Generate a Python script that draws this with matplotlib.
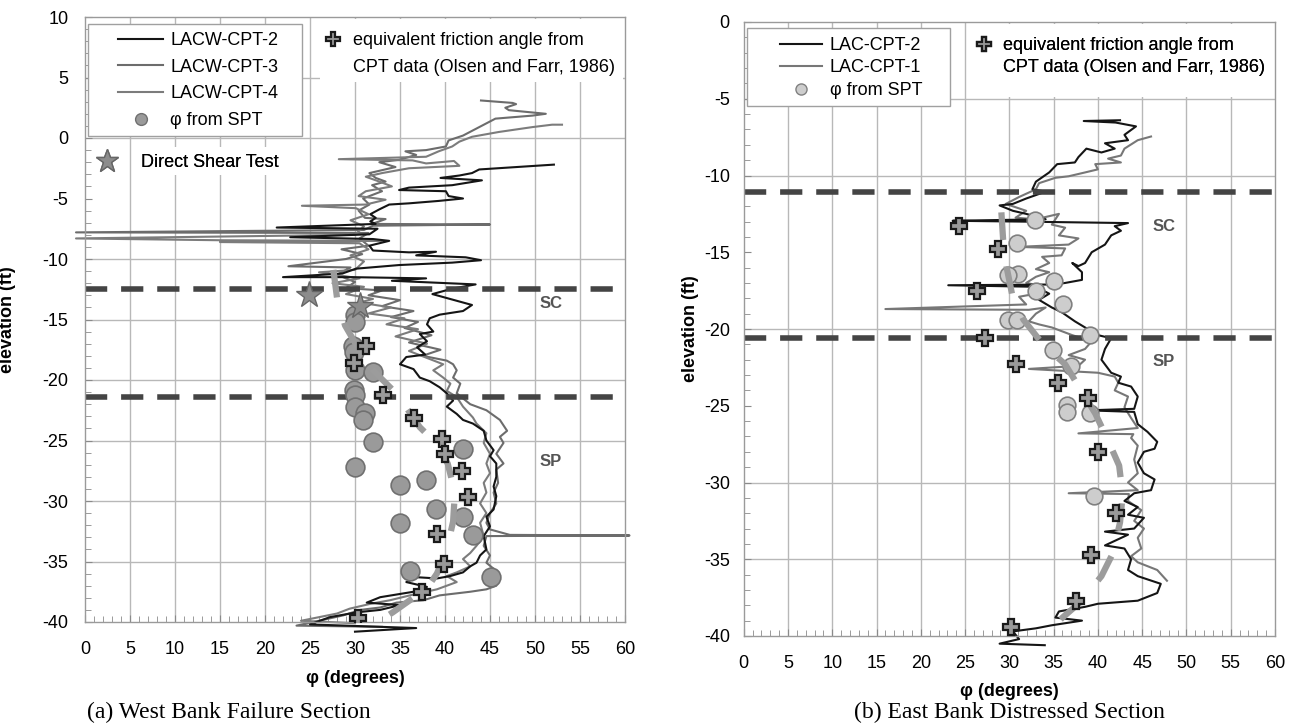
"""
Friction angle profiles vs elevation, west bank / east bank sections
"""

import numpy as np
import matplotlib as mpl
mpl.use("Agg")
import matplotlib.pyplot as plt
from matplotlib.lines import Line2D
from matplotlib.patches import Rectangle
from matplotlib.ticker import MultipleLocator

plt.rcParams['font.family'] = ['Liberation Sans', 'DejaVu Sans']
plt.rcParams['lines.scale_dashes'] = False
plt.rcParams['axes.unicode_minus'] = False

# ---------------- (a) West bank failure section ----------------
lacw_cpt2 = [(52.1, -2.2), (43.8, -2.6), (43.0, -2.9), (41.6, -3.1), (39.5, -3.3), (44.1, -3.5),
             (40.8, -3.9), (36.0, -4.1), (34.9, -4.3), (40.1, -4.4), (40.4, -4.8), (42.0, -5.0),
             (39.3, -5.2), (36.0, -5.4), (33.8, -5.5), (32.7, -5.9), (31.7, -6.3), (32.3, -6.6),
             (31.7, -6.9), (32.3, -7.1), (21.3, -7.4), (32.5, -7.5), (31.6, -7.96), (22.8, -8.2),
             (32.0, -8.35), (33.8, -8.5), (31.6, -8.9), (32.0, -9.3), (36.0, -9.45), (39.0, -9.4),
             (36.8, -9.7), (42.3, -9.86), (44.0, -10.1), (40.8, -10.3), (34.9, -10.5), (30.1, -10.8),
             (28.6, -11.2), (22.0, -11.5), (29.7, -11.5), (37.9, -11.6), (34.1, -11.8), (43.4, -12.1),
             (40.8, -12.45), (38.6, -12.9), (43.0, -13.8), (42.0, -14.3), (39.4, -14.6), (38.3, -14.9),
             (38.0, -15.4), (38.7, -16.0), (37.2, -16.2), (38.0, -16.8), (36.9, -17.3), (37.8, -17.9),
             (35.7, -18.1), (35.0, -18.7), (36.5, -19.1), (37.2, -19.8), (38.3, -20.1), (39.4, -20.6),
             (40.2, -21.1), (40.9, -21.7), (40.2, -22.2), (41.3, -22.8), (42.0, -23.3), (43.1, -23.6),
             (44.3, -24.2), (44.6, -25.0), (45.4, -25.8), (45.0, -26.3), (45.7, -26.9), (45.7, -28.0),
             (45.4, -28.8), (45.7, -29.6), (45.4, -30.7), (44.6, -31.3), (45.0, -32.1), (44.3, -32.9),
             (44.6, -34.0), (43.9, -34.5), (43.5, -35.1), (42.8, -35.4), (42.0, -35.9), (40.6, -36.2),
             (39.1, -36.4), (36.9, -36.3), (35.7, -36.7), (38.0, -37.1), (36.5, -37.5), (32.8, -37.95),
             (31.3, -38.4), (35.0, -38.6), (32.8, -39.0), (30.2, -39.2), (27.2, -39.6), (25.0, -40.2),
             (36.8, -40.5), (30.0, -40.8)]

lacw_cpt3 = [(44.0, 3.1), (47.5, 2.9), (47.9, 2.8), (46.7, 2.5), (47.1, 2.3), (51.2, 2.0), (49.7, 1.85),
             (45.6, 1.6), (43.8, 0.9), (42.0, 0.2), (40.4, -0.2), (40.1, -0.7), (37.9, -1.0), (35.6, -1.1),
             (36.8, -1.4), (34.9, -1.8), (32.7, -2.0), (34.5, -2.4), (31.6, -2.9), (32.3, -3.3),
             (33.4, -3.6), (31.9, -3.9), (33.0, -4.4), (30.9, -5.0), (31.6, -5.5), (30.4, -6.0),
             (31.1, -6.6), (33.4, -6.7), (31.9, -7.1), (45.0, -7.15), (32.0, -7.25), (31.0, -7.6),
             (-1.0, -7.8), (31.5, -7.85), (30.5, -8.3), (31.5, -8.9), (28.5, -9.2), (30.8, -9.6),
             (29.0, -10.0), (22.6, -10.6), (29.5, -10.7), (28.0, -11.3), (30.0, -11.9), (29.0, -12.4),
             (33.0, -12.6), (31.5, -13.0), (35.0, -13.4), (33.0, -13.9), (36.5, -14.3), (34.0, -14.8),
             (37.0, -15.2), (35.5, -15.7), (38.5, -16.3), (36.0, -16.9), (39.5, -17.5), (37.5, -18.0),
             (40.2, -18.4), (40.9, -18.7), (41.3, -19.2), (40.9, -19.8), (41.7, -20.3), (41.3, -21.1),
             (42.8, -22.0), (44.6, -22.5), (46.1, -23.3), (46.9, -24.2), (46.1, -24.7), (46.5, -25.2),
             (45.7, -26.1), (46.5, -26.9), (45.7, -27.4), (45.9, -28.5), (45.4, -29.3), (45.7, -30.2),
             (45.0, -31.0), (44.6, -31.8), (45.0, -32.35), (47.2, -32.8), (60.5, -32.85), (44.6, -32.9),
             (44.3, -33.7), (45.0, -34.5), (44.6, -35.1), (45.4, -35.6), (45.0, -36.2), (45.7, -37.0),
             (44.6, -37.3), (42.8, -37.5), (39.4, -37.8), (37.6, -38.2), (34.6, -38.4), (32.8, -38.8),
             (30.6, -39.0), (28.7, -39.45), (27.2, -39.7), (23.5, -40.3), (33.0, -40.4)]

lacw_cpt4 = [(53.0, 1.1), (51.9, 1.1), (49.7, 0.9), (46.0, 0.5), (43.0, 0.1), (41.6, -0.3), (40.8, -0.7),
             (39.3, -1.1), (37.9, -1.55), (28.2, -1.75), (36.4, -1.85), (37.9, -2.1), (41.0, -1.9),
             (41.6, -2.3), (36.0, -2.5), (33.0, -2.9), (31.2, -3.2), (32.7, -3.6), (34.1, -4.0),
             (31.2, -4.4), (30.4, -4.8), (33.4, -5.1), (31.2, -5.5), (24.1, -5.6), (30.1, -5.8),
             (31.5, -6.3), (29.5, -6.8), (31.0, -7.3), (30.0, -8.0), (-1.0, -8.3), (15.0, -8.45),
             (33.0, -8.5), (15.0, -8.6), (30.5, -8.7), (31.5, -9.2), (29.5, -9.7), (31.0, -10.2),
             (30.0, -10.9), (26.0, -11.1), (30.5, -11.6), (27.5, -12.0), (31.0, -12.3), (29.0, -12.9),
             (32.0, -13.3), (30.5, -13.6), (34.0, -14.0), (31.5, -14.5), (35.5, -14.9), (33.5, -15.4),
             (37.0, -15.8), (34.5, -16.4), (38.0, -17.0), (36.0, -17.6), (39.8, -18.7), (38.7, -19.2),
             (39.8, -19.8), (40.6, -20.3), (40.2, -20.9), (41.3, -21.4), (42.0, -22.2), (43.1, -23.1),
             (43.5, -23.6), (44.6, -24.4), (44.3, -25.2), (45.0, -26.1), (44.6, -26.9), (45.0, -27.7),
             (44.3, -28.5), (44.6, -29.3), (43.9, -30.2), (44.6, -31.0), (43.9, -31.8), (44.3, -32.9),
             (43.5, -33.7), (42.8, -34.3), (42.0, -34.8), (42.8, -35.4), (41.3, -35.9), (40.2, -36.2),
             (41.3, -36.7), (39.1, -37.3), (36.1, -37.8), (33.9, -38.2), (31.7, -38.5), (29.4, -38.9),
             (28.0, -39.3), (24.0, -39.9), (30.0, -40.1)]

west_spt = [(30.0, -14.6), (30.0, -15.2), (29.8, -17.2), (29.9, -17.7), (30.0, -19.2), (32.0, -19.3),
            (29.9, -20.8), (30.0, -21.2), (30.0, -22.2), (31.1, -22.7), (30.9, -23.3), (32.0, -25.1),
            (42.0, -25.7), (30.0, -27.2), (35.0, -28.7), (37.9, -28.3), (39.0, -30.7), (42.0, -31.3),
            (35.0, -31.8), (43.1, -32.8), (36.1, -35.8), (45.1, -36.3)]

west_cpt_phi = [(31.2, -17.2), (29.9, -18.6), (33.1, -21.2), (36.5, -23.1), (39.7, -24.9), (40.0, -26.1),
                (41.9, -27.5), (42.6, -29.7), (39.1, -32.7), (39.9, -35.2), (37.4, -37.5), (30.3, -39.7)]

west_shear = [(24.9, -13.0), (30.6, -13.9)]

west_trend = [(27.6, -10.9), (28.0, -13.2), (28.9, -15.5), (30.3, -17.3), (32.0, -19.2), (34.7, -21.2),
              (37.2, -23.9), (38.7, -25.0), (40.3, -26.9), (41.1, -29.3), (40.9, -31.7), (40.2, -34.0),
              (39.1, -36.0), (38.0, -37.2), (34.2, -39.2), (31.7, -40.4)]

west_layers = [-12.5, -21.4]

# ---------------- (b) East bank distressed section ----------------
lac_cpt2 = [(42.5, -6.4), (38.4, -6.45), (42.0, -6.55), (44.3, -6.8), (43.0, -7.35), (43.4, -7.7),
            (40.8, -7.9), (41.9, -8.25), (40.4, -8.5), (38.7, -8.25), (37.8, -8.8), (37.4, -9.15),
            (35.4, -9.26), (34.5, -9.8), (33.0, -10.4), (32.6, -10.9), (34.1, -11.05), (31.9, -11.5),
            (30.4, -11.85), (28.9, -11.95), (30.4, -12.3), (31.9, -12.5), (34.1, -12.85), (23.6, -12.95),
            (31.0, -13.0), (43.4, -13.1), (41.9, -13.3), (42.6, -13.6), (41.5, -13.9), (40.8, -14.5),
            (39.3, -15.0), (38.55, -15.7), (37.8, -15.9), (37.1, -15.7), (38.2, -16.3), (38.2, -16.8),
            (36.3, -17.0), (35.2, -17.1), (23.1, -17.15), (33.0, -17.25), (34.5, -17.7), (33.35, -18.1),
            (34.8, -18.6), (35.9, -18.9), (37.4, -19.5), (38.55, -19.9), (40.0, -20.4), (41.5, -20.6),
            (40.8, -21.3), (40.4, -22.0), (41.5, -22.85), (42.6, -23.1), (42.3, -23.5), (43.75, -23.75),
            (44.5, -24.4), (44.1, -25.2), (38.9, -25.3), (44.1, -25.4), (44.5, -26.2), (45.6, -26.7),
            (46.7, -27.35), (46.4, -27.8), (45.2, -28.0), (44.5, -28.7), (45.2, -29.4), (46.4, -29.8),
            (46.0, -30.5), (44.1, -30.7), (43.0, -31.2), (44.5, -31.6), (43.4, -32.1), (45.2, -32.3),
            (44.1, -33.0), (40.8, -33.2), (43.4, -33.4), (40.8, -34.1), (43.0, -34.3), (43.75, -35.0),
            (43.4, -35.7), (44.5, -36.1), (47.1, -36.6), (46.7, -37.2), (44.5, -37.7), (40.0, -37.9),
            (38.55, -38.1), (35.6, -38.4), (35.2, -38.8), (38.2, -39.0), (34.8, -39.3), (33.0, -39.5),
            (30.4, -39.7), (31.1, -40.2), (28.9, -40.5), (34.0, -40.6)]

lac_cpt1 = [(46.0, -7.46), (44.5, -7.7), (43.0, -8.25), (42.6, -8.7), (41.15, -8.9), (42.6, -9.15),
            (39.7, -9.26), (40.0, -9.6), (38.55, -9.8), (36.7, -10.05), (35.2, -10.15), (33.35, -10.5),
            (33.0, -10.9), (31.1, -11.4), (29.6, -11.85), (31.9, -12.3), (30.7, -12.75), (33.0, -12.85),
            (35.6, -12.5), (34.8, -13.2), (36.3, -13.4), (35.6, -13.9), (37.8, -14.1), (36.7, -14.5),
            (31.0, -14.65), (36.3, -14.75), (35.9, -15.2), (33.7, -15.3), (34.5, -15.7), (33.0, -16.1),
            (34.5, -16.3), (33.0, -16.6), (31.9, -17.0), (33.7, -17.2), (33.0, -17.7), (31.1, -17.9),
            (31.9, -18.4), (16.0, -18.7), (32.2, -18.75), (34.1, -18.6), (33.0, -19.0), (32.2, -19.5),
            (33.35, -19.7), (34.8, -19.9), (37.1, -20.4), (39.3, -20.8), (38.55, -21.3), (36.7, -21.7),
            (38.55, -22.0), (37.8, -22.4), (32.2, -22.6), (40.0, -22.85), (41.9, -23.1), (42.3, -23.5),
            (41.9, -24.0), (43.4, -24.4), (43.0, -25.1), (43.75, -25.8), (44.5, -26.45), (37.8, -26.8),
            (44.0, -26.85), (43.75, -27.1), (44.5, -27.6), (44.1, -28.5), (44.5, -29.4), (43.4, -30.0),
            (44.5, -30.5), (36.7, -30.7), (43.5, -30.75), (43.4, -31.2), (44.9, -31.8), (44.1, -32.5),
            (45.2, -33.0), (44.5, -33.6), (44.9, -34.3), (43.75, -34.8), (44.5, -35.2), (46.7, -35.7),
            (47.8, -36.4)]

east_spt = [(32.9, -12.9), (30.9, -14.4), (31.0, -16.4), (29.9, -16.5), (35.0, -16.9), (33.0, -17.5),
            (36.1, -18.4), (29.9, -19.4), (30.9, -19.4), (39.1, -20.4), (34.9, -21.4), (37.0, -22.4),
            (36.5, -24.95), (36.5, -25.4), (39.1, -25.5), (39.6, -30.9)]

east_cpt_phi = [(24.3, -13.3), (28.7, -14.8), (26.3, -17.5), (27.2, -20.6), (30.8, -22.3), (35.5, -23.5),
                (38.9, -24.5), (40.0, -28.0), (42.0, -32.0), (39.2, -34.7), (37.5, -37.7), (30.2, -39.4)]

east_trend = [(29.1, -12.4), (29.3, -14.2), (29.7, -16.0), (30.4, -18.0), (31.6, -19.4), (33.8, -21.0),
              (36.3, -22.3), (38.1, -24.0), (39.7, -25.5), (41.1, -27.2), (42.4, -28.9), (42.8, -30.8),
              (42.5, -32.6), (41.7, -34.6), (40.4, -36.1), (38.0, -37.8), (36.0, -38.8), (34.6, -39.6)]

east_layers = [-11.1, -20.6]

W, H = 1298, 727
fig = plt.figure(figsize=(W / 100, H / 100), dpi=100)


def fx(px):
    return px / W


def fy(py):
    return 1 - py / H


def xy(points):
    return np.array(points).T


def style(ax, ymin, ymax, hgrid):
    ax.set_xlim(0, 60)
    ax.set_ylim(ymin, ymax)
    ax.set_xticks(range(0, 61, 5))
    ax.set_yticks(range(ymin, ymax + 1, 5))
    ax.xaxis.set_minor_locator(MultipleLocator(1))
    ax.yaxis.set_minor_locator(MultipleLocator(1))
    ax.tick_params(which='both', direction='in', color='#8a8a8a', top=False, right=False, labelsize=13)
    ax.tick_params(which='major', length=5)
    ax.tick_params(which='minor', length=4)
    ax.tick_params(axis='x', pad=14)
    for s in ax.spines.values():
        s.set_color('#9a9a9a')
        s.set_linewidth(1)
    for x in range(5, 60, 5):
        ax.axvline(x, color='#b8b8b8', lw=1, zorder=0.5)
    for y in hgrid:
        ax.axhline(y, color='#b8b8b8', lw=1, zorder=0.5)
    ax.set_xlabel('φ (degrees)', fontsize=13, fontweight='bold')
    ax.set_ylabel('elevation (ft)', fontsize=13, fontweight='bold')


def box(ax, x0, y0, x1, y1, edge='none'):
    r = Rectangle((fx(x0), fy(y1)), fx(x1) - fx(x0), fy(y0) - fy(y1), transform=fig.transFigure,
                  facecolor='white', edgecolor=edge, lw=1, zorder=6, clip_on=False)
    ax.add_patch(r)


def legend(ax, handles, labels, px, py, **kw):
    opts = dict(loc='upper left', bbox_to_anchor=(fx(px), fy(py)), bbox_transform=fig.transFigure,
                frameon=False, borderpad=0, borderaxespad=0, fontsize=13)
    opts.update(kw)
    leg = ax.legend(handles, labels, **opts)
    leg.set_zorder(7)
    ax.add_artist(leg)
    return leg


cross_kw = dict(marker='P', ls='none', ms=12, mfc='#9a9a9a', mec='#1a1a1a', mew=1.6)
dash_kw = dict(color='#444444', lw=4, dashes=(16, 10), zorder=2.5)
trend_kw = dict(color='#9c9c9c', lw=4.5, dashes=(20, 19), solid_capstyle='butt', zorder=3.5)

# ---------------- left panel ----------------
axL = fig.add_axes([fx(85), fy(622), 540 / W, 605 / H])
style(axL, -40, 10, [5, 0, -10, -15, -20, -25, -30, -35])
axL.tick_params(axis='y', pad=12)

for y in west_layers:
    axL.axhline(y, **dash_kw)
axL.plot(*xy(lacw_cpt3), color='#6c6c6c', lw=1.5, zorder=2, clip_on=False)
axL.plot(*xy(lacw_cpt4), color='#7c7c7c', lw=1.5, zorder=2, clip_on=False)
axL.plot(*xy(lacw_cpt2), color='#151515', lw=1.5, zorder=2.1, clip_on=False)
axL.plot(*xy(west_spt), 'o', ms=13.5, mfc='#9a9a9a', mec='#707070', mew=1.2, zorder=3)
axL.plot(*xy(west_trend), **trend_kw)
axL.plot(*xy(west_cpt_phi), zorder=4, **cross_kw)
axL.plot(*xy(west_shear), '*', ms=20, mfc='#8c8c8c', mec='#666666', mew=1, zorder=4)
axL.text(51.8, -13.7, 'SC', fontsize=12, fontweight='bold', color='#555555', ha='center', va='center')
axL.text(51.7, -26.7, 'SP', fontsize=12, fontweight='bold', color='#555555', ha='center', va='center')
axL.yaxis.set_label_coords(-0.128, 0.5)
axL.xaxis.set_label_coords(0.5, -0.08)

box(axL, 88, 24, 302, 136, edge='#a0a0a0')
legend(axL,
       [Line2D([], [], color='#151515', lw=1.5), Line2D([], [], color='#6c6c6c', lw=1.5),
        Line2D([], [], color='#7c7c7c', lw=1.5),
        Line2D([], [], marker='o', ls='none', ms=8.5, mfc='#9a9a9a', mec='#707070')],
       ['LACW-CPT-2', 'LACW-CPT-3', 'LACW-CPT-4', 'φ from SPT'], 118, 32,
       handlelength=2.5, handletextpad=0.4, labelspacing=0.54)
box(axL, 320, 19, 623, 82)
legend(axL, [Line2D([], [], **dict(cross_kw, ms=10)), Line2D([], [], ls='none')],
       ['equivalent friction angle from', 'CPT data (Olsen and Farr, 1986)'], 324, 32,
       handlelength=1.0, handletextpad=0.6, labelspacing=0.58)
box(axL, 134, 147, 302, 175)
legend(axL, [Line2D([], [], marker='*', ls='none', ms=17, mfc='#8c8c8c', mec='#666666')],
       ['Direct Shear Test'], 96, 154, handlelength=1.2, handletextpad=1.3)

# ---------------- right panel ----------------
axR = fig.add_axes([fx(743.7), fy(636), 531.3 / W, 614 / H])
style(axR, -40, 0, [-5, -10, -20, -30, -35])
axR.tick_params(axis='y', pad=10)

for y in east_layers:
    axR.axhline(y, **dash_kw)
axR.plot(*xy(lac_cpt1), color='#777777', lw=1.5, zorder=2, clip_on=False)
axR.plot(*xy(lac_cpt2), color='#151515', lw=1.5, zorder=2.1, clip_on=False)
axR.plot(*xy(east_spt), 'o', ms=12, mfc='#cdcdcd', mec='#808080', mew=1.2, zorder=3)
axR.plot(*xy(east_trend), **trend_kw)
axR.plot(*xy(east_cpt_phi), zorder=4, **cross_kw)
axR.text(47.5, -13.3, 'SC', fontsize=12, fontweight='bold', color='#555555', ha='center', va='center')
axR.text(47.4, -22.1, 'SP', fontsize=12, fontweight='bold', color='#555555', ha='center', va='center')
axR.yaxis.set_label_coords(-0.085, 0.5)
axR.xaxis.set_label_coords(0.5, -0.076)

box(axR, 747, 28, 950, 106, edge='#a0a0a0')
legend(axR,
       [Line2D([], [], color='#151515', lw=1.5), Line2D([], [], color='#777777', lw=1.5),
        Line2D([], [], marker='o', ls='none', ms=8, mfc='#cdcdcd', mec='#808080')],
       ['LAC-CPT-2', 'LAC-CPT-1', 'φ from SPT'], 780, 37,
       handlelength=2.35, handletextpad=0.4, labelspacing=0.3)
box(axR, 968, 24, 1273, 97)
legend(axR, [Line2D([], [], **dict(cross_kw, ms=10)), Line2D([], [], ls='none')],
       ['equivalent friction angle from', 'CPT data (Olsen and Farr, 1986)'], 975, 37,
       handlelength=1.0, handletextpad=0.55, labelspacing=0.26)

fig.text(fx(229), fy(712), '(a) West Bank Failure Section', ha='center', va='center',
         family=['Liberation Serif', 'DejaVu Serif'], fontsize=17)
fig.text(fx(1009), fy(712), '(b) East Bank Distressed Section', ha='center', va='center',
         family=['Liberation Serif', 'DejaVu Serif'], fontsize=17)

fig.savefig('out.png', dpi=100)
